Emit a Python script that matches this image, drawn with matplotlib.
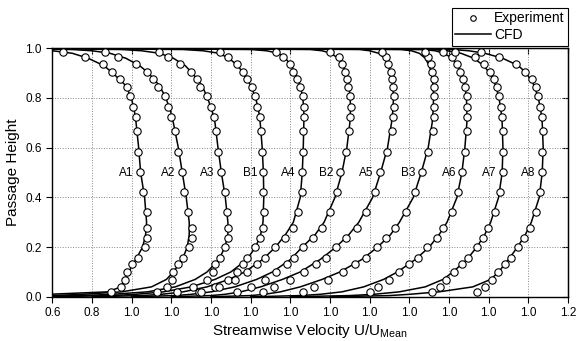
import numpy as np
import matplotlib
matplotlib.use('Agg')
import matplotlib.pyplot as plt

plt.rcParams['font.family'] = ['Liberation Sans', 'DejaVu Sans']
plt.rcParams['mathtext.fontset'] = 'custom'
plt.rcParams['mathtext.rm'] = 'Liberation Sans'

# profile names, left to right; each profile is shifted by one tick (0.2)
names = ['A1', 'A2', 'A3', 'B1', 'A4', 'B2', 'A5', 'B3', 'A6', 'A7', 'A8']
shift = 0.2

# measurement heights (same for every traverse)
y_exp = [0.018, 0.038, 0.068, 0.100, 0.130, 0.158, 0.200, 0.238, 0.277, 0.340, 0.420, 0.502,
         0.583, 0.666, 0.725, 0.765, 0.806, 0.846, 0.875, 0.903, 0.935, 0.965, 0.985]

# experiment U/Umean per profile
exp_A1 = [0.896, 0.946, 0.966, 0.978, 1.000, 1.030, 1.067, 1.079, 1.079, 1.076, 1.059, 1.042,
          1.033, 1.025, 1.020, 1.008, 0.991, 0.975, 0.941, 0.899, 0.857, 0.765, 0.655]
exp_A2 = [0.926, 0.979, 1.005, 1.010, 1.035, 1.060, 1.089, 1.102, 1.102, 1.085, 1.065, 1.052,
          1.032, 1.018, 0.996, 0.984, 0.968, 0.934, 0.909, 0.875, 0.821, 0.729, 0.665]
exp_A3 = [0.830, 0.910, 0.978, 1.012, 1.020, 1.045, 1.071, 1.088, 1.088, 1.083, 1.071, 1.050,
          1.034, 1.024, 1.017, 1.000, 0.978, 0.945, 0.928, 0.900, 0.844, 0.785, 0.739]
exp_B1 = [0.740, 0.820, 0.887, 0.929, 0.963, 0.980, 1.022, 1.047, 1.064, 1.069, 1.064, 1.064,
          1.058, 1.052, 1.047, 1.030, 1.022, 1.005, 0.980, 0.963, 0.929, 0.887, 0.845]
exp_A4 = [0.550, 0.640, 0.720, 0.780, 0.830, 0.872, 0.923, 0.973, 1.012, 1.040, 1.057, 1.057,
          1.063, 1.066, 1.069, 1.069, 1.062, 1.049, 1.034, 1.015, 0.998, 0.965, 0.928]
exp_B2 = [0.530, 0.600, 0.670, 0.730, 0.782, 0.818, 0.865, 0.916, 0.958, 1.000, 1.034, 1.050,
          1.080, 1.095, 1.100, 1.104, 1.100, 1.090, 1.084, 1.076, 1.062, 1.045, 1.000]
exp_A5 = [0.460, 0.520, 0.600, 0.670, 0.730, 0.780, 0.830, 0.880, 0.934, 0.981, 1.027, 1.052,
          1.086, 1.110, 1.120, 1.123, 1.123, 1.119, 1.115, 1.105, 1.094, 1.080, 1.060]
exp_B3 = [0.463, 0.517, 0.591, 0.665, 0.726, 0.780, 0.835, 0.880, 0.928, 0.983, 1.029, 1.062,
          1.094, 1.118, 1.125, 1.125, 1.125, 1.125, 1.122, 1.116, 1.110, 1.096, 1.079]
exp_A6 = [0.600, 0.640, 0.697, 0.747, 0.800, 0.845, 0.888, 0.938, 0.971, 1.014, 1.047, 1.068,
          1.081, 1.089, 1.092, 1.092, 1.089, 1.081, 1.069, 1.055, 1.039, 1.014, 0.970]
exp_A7 = [0.716, 0.755, 0.785, 0.827, 0.864, 0.898, 0.940, 0.973, 0.998, 1.032, 1.058, 1.070,
          1.072, 1.071, 1.066, 1.060, 1.050, 1.040, 1.025, 1.005, 0.975, 0.930, 0.830]
exp_A8 = [0.741, 0.780, 0.816, 0.849, 0.882, 0.913, 0.946, 0.978, 1.009, 1.039, 1.059, 1.068,
          1.071, 1.074, 1.068, 1.059, 1.050, 1.038, 1.020, 0.985, 0.937, 0.853, 0.760]

# CFD heights and U/Umean per profile
y_cfd = [0.0, 0.005, 0.01, 0.02, 0.04, 0.07, 0.10, 0.15, 0.20, 0.25, 0.30, 0.40, 0.50,
         0.60, 0.70, 0.75, 0.80, 0.85, 0.90, 0.93, 0.96, 0.98, 0.99, 0.995, 1.0]
cfd_A1 = [0.0, 0.45, 0.58, 0.88, 0.945, 0.965, 0.985, 1.02, 1.055, 1.07, 1.075, 1.065, 1.045,
          1.035, 1.022, 1.013, 0.998, 0.97, 0.905, 0.86, 0.78, 0.70, 0.60, 0.50, 0.0]
cfd_A2 = [0.0, 0.40, 0.55, 0.75, 0.90, 0.975, 1.01, 1.055, 1.08, 1.09, 1.09, 1.075, 1.055,
          1.035, 1.01, 0.995, 0.972, 0.94, 0.885, 0.84, 0.77, 0.69, 0.60, 0.50, 0.0]
cfd_A3 = [0.0, 0.35, 0.50, 0.68, 0.82, 0.92, 0.98, 1.04, 1.07, 1.085, 1.085, 1.072, 1.052,
          1.035, 1.02, 1.005, 0.982, 0.955, 0.905, 0.87, 0.81, 0.74, 0.65, 0.55, 0.0]
cfd_B1 = [0.0, 0.30, 0.42, 0.56, 0.70, 0.82, 0.90, 0.98, 1.025, 1.05, 1.062, 1.066, 1.064,
          1.058, 1.048, 1.04, 1.025, 1.0, 0.962, 0.935, 0.89, 0.84, 0.76, 0.66, 0.0]
cfd_A4 = [0.0, 0.25, 0.35, 0.46, 0.58, 0.69, 0.77, 0.86, 0.925, 0.975, 1.015, 1.05, 1.06,
          1.065, 1.068, 1.068, 1.063, 1.05, 1.025, 1.005, 0.975, 0.94, 0.88, 0.80, 0.0]
cfd_B2 = [0.0, 0.22, 0.30, 0.40, 0.52, 0.63, 0.71, 0.80, 0.86, 0.925, 0.97, 1.025, 1.06,
          1.085, 1.10, 1.103, 1.102, 1.095, 1.08, 1.065, 1.04, 1.005, 0.96, 0.90, 0.0]
cfd_A5 = [0.0, 0.20, 0.27, 0.35, 0.45, 0.56, 0.65, 0.75, 0.83, 0.895, 0.945, 1.015, 1.055,
          1.09, 1.11, 1.117, 1.12, 1.117, 1.105, 1.095, 1.075, 1.045, 1.0, 0.95, 0.0]
cfd_B3 = [0.0, 0.20, 0.27, 0.35, 0.45, 0.56, 0.65, 0.76, 0.84, 0.905, 0.95, 1.02, 1.06,
          1.095, 1.115, 1.12, 1.122, 1.12, 1.112, 1.10, 1.08, 1.05, 1.01, 0.96, 0.0]
cfd_A6 = [0.0, 0.25, 0.35, 0.46, 0.57, 0.67, 0.74, 0.83, 0.90, 0.95, 0.99, 1.04, 1.065,
          1.08, 1.09, 1.09, 1.088, 1.08, 1.06, 1.045, 1.015, 0.975, 0.93, 0.87, 0.0]
cfd_A7 = [0.0, 0.30, 0.42, 0.55, 0.68, 0.77, 0.82, 0.89, 0.94, 0.98, 1.01, 1.05, 1.068,
          1.072, 1.068, 1.062, 1.052, 1.036, 1.005, 0.975, 0.925, 0.86, 0.79, 0.72, 0.0]
cfd_A8 = [0.0, 0.30, 0.40, 0.55, 0.72, 0.81, 0.85, 0.90, 0.945, 0.985, 1.015, 1.055, 1.07,
          1.075, 1.07, 1.063, 1.05, 1.03, 0.99, 0.95, 0.87, 0.78, 0.70, 0.62, 0.0]

exp_all = [exp_A1, exp_A2, exp_A3, exp_B1, exp_A4, exp_B2, exp_A5, exp_B3, exp_A6, exp_A7, exp_A8]
cfd_all = [cfd_A1, cfd_A2, cfd_A3, cfd_B1, cfd_A4, cfd_B2, cfd_A5, cfd_B3, cfd_A6, cfd_A7, cfd_A8]

x_ticks = [0.6, 0.8] + [1.0 + shift * k for k in range(len(names))] + [3.2]
x_ticklabels = ['0.6', '0.8'] + ['1.0'] * len(names) + ['1.2']
y_ticks = [0.0, 0.2, 0.4, 0.6, 0.8, 1.0]

fig = plt.figure(figsize=(5.77, 3.41), dpi=100)
ax = fig.add_axes([0.0908, 0.1296, 0.8936, 0.7288])

ye = np.array(y_exp)
yc = np.array(y_cfd)
for k, (name, ue, uc) in enumerate(zip(names, exp_all, cfd_all)):
    off = shift * k
    ax.plot(np.array(uc) + off, yc, color='black', lw=1.1, zorder=3,
            label='CFD' if k == 0 else None)
    ax.plot(np.array(ue) + off, ye, 'o', ms=5.3, mfc='white', mec='black', mew=0.8, zorder=4,
            label='Experiment' if k == 0 else None)
    ax.text(ue[11] + off - 0.032, 0.5, name, ha='right', va='center', fontsize=8.5, zorder=5)

ax.set_xlim(0.6, 3.2)
ax.set_ylim(0.0, 1.0)
ax.set_xticks(x_ticks)
ax.set_xticklabels(x_ticklabels)
ax.set_yticks(y_ticks)
ax.set_yticklabels(['%.1f' % v for v in y_ticks])
ax.tick_params(axis='both', labelsize=8.5, length=4, width=0.8, direction='out')
ax.grid(True, color='#888888', linestyle=':', linewidth=0.7)
for s in ax.spines.values():
    s.set_linewidth(1.0)

# inward ticks on the top and right frame
top = ax.secondary_xaxis('top')
top.set_xticks(x_ticks)
top.tick_params(direction='in', length=4, width=0.8, labeltop=False)
right = ax.secondary_yaxis('right')
right.set_yticks(y_ticks)
right.tick_params(direction='in', length=4, width=0.8, labelright=False)

ax.set_xlabel(r'Streamwise Velocity U/U$_{\mathrm{Mean}}$', fontsize=11, labelpad=2)
ax.set_ylabel('Passage Height', fontsize=11, labelpad=4)

handles, labels = ax.get_legend_handles_labels()
order = [labels.index('Experiment'), labels.index('CFD')]
leg = fig.legend([handles[i] for i in order], [labels[i] for i in order],
                 loc='upper right', bbox_to_anchor=(0.9844, 0.9765), fontsize=10,
                 frameon=True, fancybox=False, edgecolor='black', framealpha=1,
                 borderpad=0.25, labelspacing=0.2, handlelength=2.6, handletextpad=0.2,
                 borderaxespad=0.0, markerscale=0.75)
leg.get_frame().set_linewidth(0.8)

fig.savefig('out.png', dpi=100)
